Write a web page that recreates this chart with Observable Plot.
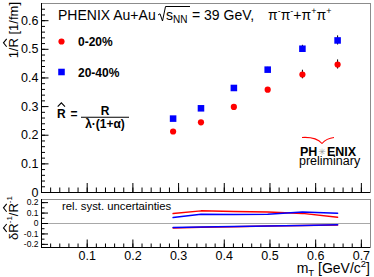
<!DOCTYPE html>
<html><head><meta charset="utf-8">
<script src="https://cdn.jsdelivr.net/npm/d3@7"></script>
<script src="https://cdn.jsdelivr.net/npm/@observablehq/plot@0.6"></script>
<style>
html,body{margin:0;padding:0;background:#fff;}
#wrap{position:relative;width:374px;height:277px;overflow:hidden;font-family:"Liberation Sans",Arial,sans-serif;}
</style></head><body><div id="wrap"></div>
<script>
// ---- data ----
const mT       = [0.288, 0.349, 0.421, 0.495, 0.571, 0.648];
const inv0_20  = [0.213, 0.245, 0.299, 0.359, 0.412, 0.447];
const err0_20  = [0.004, 0.004, 0.005, 0.007, 0.015, 0.016];
const inv20_40 = [0.258, 0.294, 0.365, 0.429, 0.502, 0.531];
const err20_40 = [0.004, 0.005, 0.006, 0.008, 0.012, 0.016];
// relative systematic uncertainties (upper / lower)
const sysUp0_20  = [0.095, 0.121, 0.114, 0.111, 0.097, 0.060];
const sysUp20_40 = [0.057, 0.089, 0.086, 0.089, 0.110, 0.098];
const sysLo0_20  = [-0.042, -0.036, -0.030, -0.025, -0.020, -0.015];
const sysLo20_40 = [-0.039, -0.033, -0.029, -0.025, -0.019, -0.013];
// ticks
const xMajor = [0.1, 0.2, 0.3, 0.4, 0.5, 0.6, 0.7];
const yMajorTop = [0, 0.1, 0.2, 0.3, 0.4, 0.5, 0.6];
const yMajorBot = [-0.2, -0.1, 0, 0.1, 0.2];
const xMinor = d3.range(1, 36).map(i => +(i * 0.02).toFixed(2));
const yMinorTop = d3.range(1, 33).map(i => +(i * 0.02).toFixed(2));
const yMinorBot = d3.range(-4, 5).map(i => +(i * 0.05).toFixed(2));
const legendLabels = ["0-20%", "20-40%"];

const FONT = '"Liberation Sans", Arial, sans-serif';
const xDomain = [0, 0.72];
const W = 374;
const rows0 = mT.map((x, i) => ({x, y: inv0_20[i], e: err0_20[i]}));
const rows1 = mT.map((x, i) => ({x, y: inv20_40[i], e: err20_40[i]}));
const RED = "#ff0000", BLUE = "#0000ff";

const wrap = document.getElementById("wrap");

// ---- top panel ----
const mL = 41, mR = 4;
const innerW = W - mL - mR;
const topH = 197, topMT = 3, topMB = 5, innerHTop = topH - topMT - topMB;
const topPlot = Plot.plot({
  width: W, height: topH, marginLeft: mL, marginRight: mR, marginTop: topMT, marginBottom: topMB,
  x: {domain: xDomain, axis: null},
  y: {domain: [0, 0.66], axis: null},
  style: {fontFamily: FONT, background: "transparent", overflow: "visible"},
  marks: [
    Plot.frame({stroke: "#8c8c8c"}),
    Plot.ruleY(yMinorTop, {y: d => d, insetRight: innerW - 4, stroke: "black"}),
    Plot.ruleY(yMajorTop, {y: d => d, insetRight: innerW - 7.5, stroke: "black"}),
    Plot.ruleX(xMinor, {x: d => d, insetTop: innerHTop - 4.5, stroke: "black"}),
    Plot.ruleX(xMajor, {x: d => d, insetTop: innerHTop - 9, stroke: "black"}),
    Plot.ruleX([xDomain[0]], {x: d => d, stroke: "black"}),
    Plot.ruleY([0], {y: d => d, stroke: "black"}),
    Plot.axisY({ticks: yMajorTop, tickSize: 0, tickPadding: 3, fontSize: 12.5, tickFormat: d => String(d), label: null}),
    Plot.ruleX(rows0, {x: "x", y1: d => d.y - d.e, y2: d => d.y + d.e, stroke: "black"}),
    Plot.ruleX(rows1, {x: "x", y1: d => d.y - d.e, y2: d => d.y + d.e, stroke: "black"}),
    Plot.dot(rows0, {x: "x", y: "y", r: 3.1, fill: RED}),
    Plot.dot(rows1, {x: "x", y: "y", r: 3.7, symbol: "square", fill: BLUE}),
    Plot.dot([legendLabels[0]], {frameAnchor: "top-left", dx: 20, dy: 38, r: 3.1, fill: RED}),
    Plot.dot([legendLabels[1]], {frameAnchor: "top-left", dx: 20, dy: 68.5, r: 3.7, symbol: "square", fill: BLUE})
  ]
});
topPlot.style.position = "absolute"; topPlot.style.left = "0px"; topPlot.style.top = "0px";
wrap.appendChild(topPlot);

// ---- bottom panel ----
const botH = 80, botMT = 2, botMB = 30, innerHBot = botH - botMT - botMB;
const botDomain = [-0.23, 0.23];
const botPlot = Plot.plot({
  width: W, height: botH, marginLeft: mL, marginRight: mR, marginTop: botMT, marginBottom: botMB,
  x: {domain: xDomain, axis: null},
  y: {domain: botDomain, axis: null},
  style: {fontFamily: FONT, background: "transparent", overflow: "visible"},
  marks: [
    Plot.frame({stroke: "#8c8c8c"}),
    Plot.ruleY([0], {y: d => d, stroke: "#a8a8a8"}),
    Plot.ruleY(yMinorBot, {y: d => d, insetRight: innerW - 3.5, stroke: "black"}),
    Plot.ruleY(yMajorBot, {y: d => d, insetRight: innerW - 7, stroke: "black"}),
    Plot.ruleX(xMinor, {x: d => d, insetTop: innerHBot - 3.5, stroke: "black"}),
    Plot.ruleX(xMajor, {x: d => d, insetTop: innerHBot - 7.5, stroke: "black"}),
    Plot.ruleX([xDomain[0]], {x: d => d, stroke: "black"}),
    Plot.ruleY([botDomain[0]], {y: d => d, stroke: "black"}),
    Plot.line(sysUp0_20, {x: (d, i) => mT[i], y: d => d, stroke: RED, strokeWidth: 1.5}),
    Plot.line(sysUp20_40, {x: (d, i) => mT[i], y: d => d, stroke: BLUE, strokeWidth: 1.5}),
    Plot.line(sysLo0_20, {x: (d, i) => mT[i], y: d => d, stroke: RED, strokeWidth: 1.5}),
    Plot.line(sysLo20_40, {x: (d, i) => mT[i], y: d => d, stroke: BLUE, strokeWidth: 1.5}),
    Plot.axisY({ticks: yMajorBot, tickSize: 0, tickPadding: 3, fontSize: 8.5, tickFormat: d => String(d), label: null}),
    Plot.axisX({ticks: xMajor, tickSize: 0, tickPadding: 4, fontSize: 12.5, tickFormat: d => String(d), label: null})
  ]
});
botPlot.style.position = "absolute"; botPlot.style.left = "0px"; botPlot.style.top = topH + "px";
wrap.appendChild(botPlot);

// ---- text overlay ----
const ov = d3.create("svg").attr("width", W).attr("height", 277)
  .attr("font-family", FONT)
  .style("position", "absolute").style("left", "0px").style("top", "0px").style("pointer-events", "none");
wrap.appendChild(ov.node());

function rich(parent, x, y, parts, attrs = {}) {
  const t = parent.append("text").attr("x", x).attr("y", y);
  for (const k in attrs) t.attr(k, attrs[k]);
  let prev = 0;
  for (const p of parts) {
    const s = t.append("tspan").text(p.t);
    const sh = p.shift || 0;
    if (sh !== prev) s.attr("dy", sh - prev);
    prev = sh;
    if (p.fs) s.attr("font-size", p.fs);
    if (p.fw) s.attr("font-weight", p.fw);
  }
  return t;
}
function hat(parent, textSel, idx, fs, gap, h, wf = 0.42) {
  const n = textSel.node();
  const s = n.getStartPositionOfChar(idx), e = n.getEndPositionOfChar(idx);
  const m = (s.x + e.x) / 2, w = Math.abs(e.x - s.x);
  const cap = 0.716 * fs;
  const y0 = s.y - cap - gap, y1 = y0 - h;
  parent.append("path").attr("d", `M${m - w * wf},${y0}L${m},${y1}L${m + w * wf},${y0}`)
    .attr("fill", "none").attr("stroke", "black").attr("stroke-width", 1.1);
}

// title
rich(ov, 58, 19.5, [{t: "PHENIX Au+Au"}], {"font-size": 14});
ov.append("path").attr("d", "M158,15L160,13.8L162.5,21L165.5,6.5L190,6.5").attr("fill", "none").attr("stroke", "black").attr("stroke-width", 1);
rich(ov, 166, 19.5, [{t: "s"}, {t: "NN", fs: 10, shift: 3}], {"font-size": 14});
rich(ov, 192, 19.5, [{t: "= 39 GeV,"}], {"font-size": 14});
rich(ov, 268, 19.5, [
  {t: "π"}, {t: "-", fs: 9, shift: -6}, {t: "π"}, {t: "-", fs: 9, shift: -6}, {t: "+"},
  {t: "π"}, {t: "+", fs: 9, shift: -6}, {t: "π"}, {t: "+", fs: 9, shift: -6}
], {"font-size": 14});

// legend
rich(ov, 78, 46, [{t: legendLabels[0]}], {"font-size": 12, "font-weight": "bold"});
rich(ov, 78, 76.5, [{t: legendLabels[1]}], {"font-size": 12, "font-weight": "bold"});

// formula
const fR = rich(ov, 57, 118.3, [{t: "R"}], {"font-size": 12, "font-weight": "bold"});
hat(ov, fR, 0, 12, 3, 3.8);
rich(ov, 70.5, 118.3, [{t: "="}], {"font-size": 12, "font-weight": "bold"});
ov.append("line").attr("x1", 81).attr("x2", 129).attr("y1", 117.3).attr("y2", 117.3).attr("stroke", "black").attr("stroke-width", 1.1);
rich(ov, 105, 115, [{t: "R"}], {"font-size": 12, "font-weight": "bold", "text-anchor": "middle"});
rich(ov, 105, 128, [{t: "λ·(1+α)"}], {"font-size": 12, "font-weight": "bold", "text-anchor": "middle"});

// PHENIX preliminary
ov.append("path").attr("d", "M302,137.5C310,137 318,139 322,143.5C325,140 329,138 334,137.5").attr("fill", "none").attr("stroke", RED).attr("stroke-width", 1.1);
rich(ov, 300, 155.5, [{t: "PH"}], {"font-size": 12.5, "font-weight": "bold"});
rich(ov, 322, 154.5, [{t: "✳"}], {"font-size": 9, "fill": "#999", "text-anchor": "middle", "font-family": "DejaVu Sans"});
rich(ov, 327, 155.5, [{t: "ENIX"}], {"font-size": 12.5, "font-weight": "bold"});
rich(ov, 299, 165, [{t: "preliminary"}], {"font-size": 12.5});

// lower panel caption
rich(ov, 62, 210, [{t: "rel. syst. uncertainties"}], {"font-size": 11.3});

// x title
rich(ov, 370, 273, [{t: "m"}, {t: "T", fs: 9.5, shift: 3}, {t: " [GeV/c"}, {t: "2", fs: 9.5, shift: -6}, {t: "]"}],
  {"font-size": 14, "text-anchor": "end"});

// y titles (rotated)
const gT = ov.append("g").attr("transform", "translate(17.5,2) rotate(-90)");
const yT = rich(gT, 0, 0, [{t: "1/R [1/fm]"}], {"font-size": 13, "text-anchor": "end"});
hat(gT, yT, 2, 13, 1.5, 3.2);
const gB = ov.append("g").attr("transform", "translate(17.5,196) rotate(-90)");
const yB = rich(gB, 0, 0, [{t: "δR"}, {t: "-1", fs: 8, shift: -6}, {t: "/R", shift: 0}, {t: "-1", fs: 8, shift: -6}],
  {"font-size": 13, "text-anchor": "end"});
hat(gB, yB, 1, 13, 1.5, 3.2);
hat(gB, yB, 5, 13, 1.5, 3.2);
</script></body></html>
